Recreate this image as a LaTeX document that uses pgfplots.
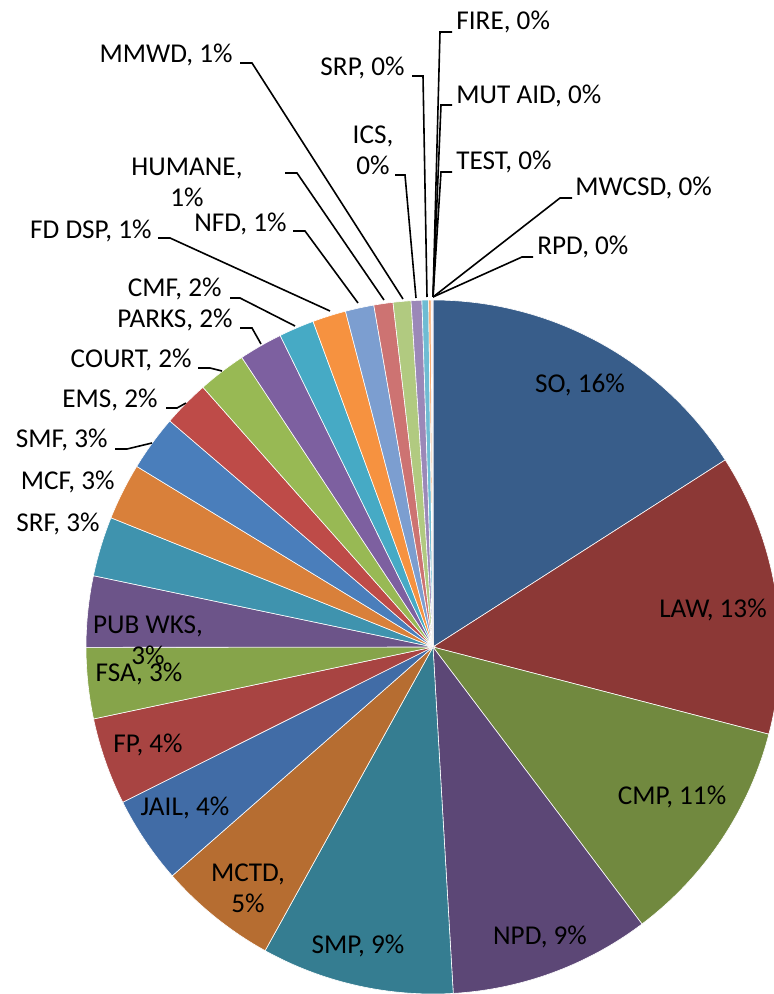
\documentclass[border=0pt]{standalone}
\usepackage{pgfplots}
\pgfplotsset{compat=1.18}
\usepackage{fontspec}
\setmainfont{Carlito}
\definecolor{cSO}{HTML}{385D8A}
\definecolor{cLAW}{HTML}{8C3836}
\definecolor{cCMP}{HTML}{71893F}
\definecolor{cNPD}{HTML}{5C4776}
\definecolor{cSMP}{HTML}{357D91}
\definecolor{cMCTD}{HTML}{B66D31}
\definecolor{cJAIL}{HTML}{416CA6}
\definecolor{cFP}{HTML}{A84442}
\definecolor{cFSA}{HTML}{86A44A}
\definecolor{cPUB}{HTML}{6C5489}
\definecolor{cSRF}{HTML}{3F93AE}
\definecolor{cMCF}{HTML}{D9803A}
\definecolor{cSMF}{HTML}{4A7EBB}
\definecolor{cEMS}{HTML}{BE4B48}
\definecolor{cCOURT}{HTML}{98B954}
\definecolor{cPARKS}{HTML}{7D60A0}
\definecolor{cCMF}{HTML}{46AAC5}
\definecolor{cFD}{HTML}{F69240}
\definecolor{cNFD}{HTML}{7C9ED0}
\definecolor{cHUM}{HTML}{CD7372}
\definecolor{cMMWD}{HTML}{B1CA80}
\definecolor{cICS}{HTML}{9B88B8}
\definecolor{cSRP}{HTML}{6FBCD3}
\definecolor{cFIRE}{HTML}{F9AA6E}
\definecolor{cMUT}{HTML}{95B3D7}
\definecolor{cTEST}{HTML}{D99694}
\definecolor{cMWCSD}{HTML}{C3D69B}
\definecolor{cRPD}{HTML}{B3A2C7}
% value/colour, clockwise from 12 o'clock
\def\piedata{15.94/cSO, 13.11/cLAW, 10.67/cCMP, 9.36/cNPD, 8.97/cSMP, 5.50/cMCTD,
 4.08/cJAIL, 4.06/cFP, 3.31/cFSA, 3.31/cPUB, 2.78/cSRF, 2.64/cMCF, 2.58/cSMF,
 2.17/cEMS, 2.25/cCOURT, 2.03/cPARKS, 1.64/cCMF, 1.56/cFD, 1.33/cNFD, 0.89/cHUM,
 0.83/cMMWD, 0.50/cICS, 0.31/cSRP, 0.11/cFIRE, 0.03/cMUT, 0.03/cTEST, 0.015/cMWCSD, 0.015/cRPD}
% cumulative angles from the values
\gdef\pieTotal{0}
\foreach \v/\c in \piedata {\pgfmathsetmacro\pieT{\pieTotal+\v}\global\let\pieTotal\pieT}
\gdef\pieCum{0}
\gdef\pieList{}
\foreach \v/\c in \piedata {%
  \pgfmathsetmacro\pieA{90-\pieCum/\pieTotal*360}%
  \pgfmathsetmacro\pieB{90-(\pieCum+\v)/\pieTotal*360}%
  \pgfmathsetmacro\pieT{\pieCum+\v}\global\let\pieCum\pieT
  \ifx\pieList\empty \xdef\pieList{\pieA/\pieB/\c}\else \xdef\pieList{\pieList,\pieA/\pieB/\c}\fi
}
\begin{document}
\begin{tikzpicture}[lab/.style={inner sep=0pt, font=\fontsize{13.6}{15.6}\selectfont, align=center},
  leader/.style={black, line width=0.8pt}]
\begin{axis}[hide axis, scale only axis, width=386.5pt, height=497pt,
  xmin=0, xmax=773, ymin=0, ymax=994, y dir=reverse, clip=false]
\pgfplotsextra{%
  \foreach \sa/\sb/\sc in \pieList {%
    \fill[\sc, draw=white, line width=0.3pt] (axis cs:433,647) -- ++(\sa:173.5pt)
      arc[start angle=\sa, end angle=\sb, radius=173.5pt] -- cycle;
  }%
}
% leader lines
\draw[leader] (axis cs:452,32) -- (axis cs:440,32) -- (axis cs:433,297);
\draw[leader] (axis cs:452,105) -- (axis cs:441,105) -- (axis cs:433,297);
\draw[leader] (axis cs:452,172) -- (axis cs:441,172) -- (axis cs:433,297);
\draw[leader] (axis cs:572,198) -- (axis cs:560,198) -- (axis cs:433,297);
\draw[leader] (axis cs:533,257) -- (axis cs:522,257) -- (axis cs:433,297);
\draw[leader] (axis cs:412,76) -- (axis cs:423,76) -- (axis cs:427,297);
\draw[leader] (axis cs:395,175) -- (axis cs:405,175) -- (axis cs:416,298);
\draw[leader] (axis cs:240,63) -- (axis cs:252,63) -- (axis cs:403,299);
\draw[leader] (axis cs:285,173) -- (axis cs:297,173) -- (axis cs:384,300);
\draw[leader] (axis cs:293,231) -- (axis cs:305,231) -- (axis cs:358,303);
\draw[leader] (axis cs:158,238) -- (axis cs:170,238) -- (axis cs:330,311);
\draw[leader] (axis cs:230,298) -- (axis cs:240,298) -- (axis cs:295,326);
\draw[leader] (axis cs:240,328) -- (axis cs:252,328) -- (axis cs:261,344);
\draw[leader] (axis cs:198,368) -- (axis cs:210,368) -- (axis cs:222,371);
\draw[leader] (axis cs:166,408) -- (axis cs:177,408) -- (axis cs:186,403);
\draw[leader] (axis cs:115,449) -- (axis cs:127,449) -- (axis cs:152,443);
% labels inside
\node[lab] at (axis cs:580,385) {SO, 16\%};
\node[lab] at (axis cs:713,610) {LAW, 13\%};
\node[lab] at (axis cs:672,797) {CMP, 11\%};
\node[lab] at (axis cs:540,937) {NPD, 9\%};
\node[lab] at (axis cs:358,946) {SMP, 9\%};
\node[lab] at (axis cs:248,888) {MCTD,\\5\%};
\node[lab] at (axis cs:185,808) {JAIL, 4\%};
\node[lab] at (axis cs:148,745) {FP, 4\%};
\node[lab] at (axis cs:139,674) {FSA, 3\%};
\node[lab] at (axis cs:148,640) {PUB WKS,\\3\%};
% labels outside
\node[lab, anchor=west] at (axis cs:456,22) {FIRE, 0\%};
\node[lab, anchor=west] at (axis cs:456,96) {MUT AID, 0\%};
\node[lab, anchor=west] at (axis cs:456,162) {TEST, 0\%};
\node[lab, anchor=west] at (axis cs:575,188) {MWCSD, 0\%};
\node[lab, anchor=west] at (axis cs:537,247) {RPD, 0\%};
\node[lab, anchor=east] at (axis cs:405,68) {SRP, 0\%};
\node[lab] at (axis cs:373,150) {ICS,\\0\%};
\node[lab, anchor=east] at (axis cs:233,55) {MMWD, 1\%};
\node[lab] at (axis cs:187,182) {HUMANE,\\1\%};
\node[lab, anchor=east] at (axis cs:287,224) {NFD, 1\%};
\node[lab, anchor=east] at (axis cs:152,231) {FD DSP, 1\%};
\node[lab, anchor=east] at (axis cs:222,289) {CMF, 2\%};
\node[lab, anchor=east] at (axis cs:233,320) {PARKS, 2\%};
\node[lab, anchor=east] at (axis cs:192,360) {COURT, 2\%};
\node[lab, anchor=east] at (axis cs:158,400) {EMS, 2\%};
\node[lab, anchor=east] at (axis cs:108,440) {SMF, 3\%};
\node[lab, anchor=east] at (axis cs:115,482) {MCF, 3\%};
\node[lab, anchor=east] at (axis cs:100,524) {SRF, 3\%};
\end{axis}
\pgfresetboundingbox
\path[use as bounding box] (current axis.south west) rectangle (current axis.north east);
\end{tikzpicture}
\end{document}
